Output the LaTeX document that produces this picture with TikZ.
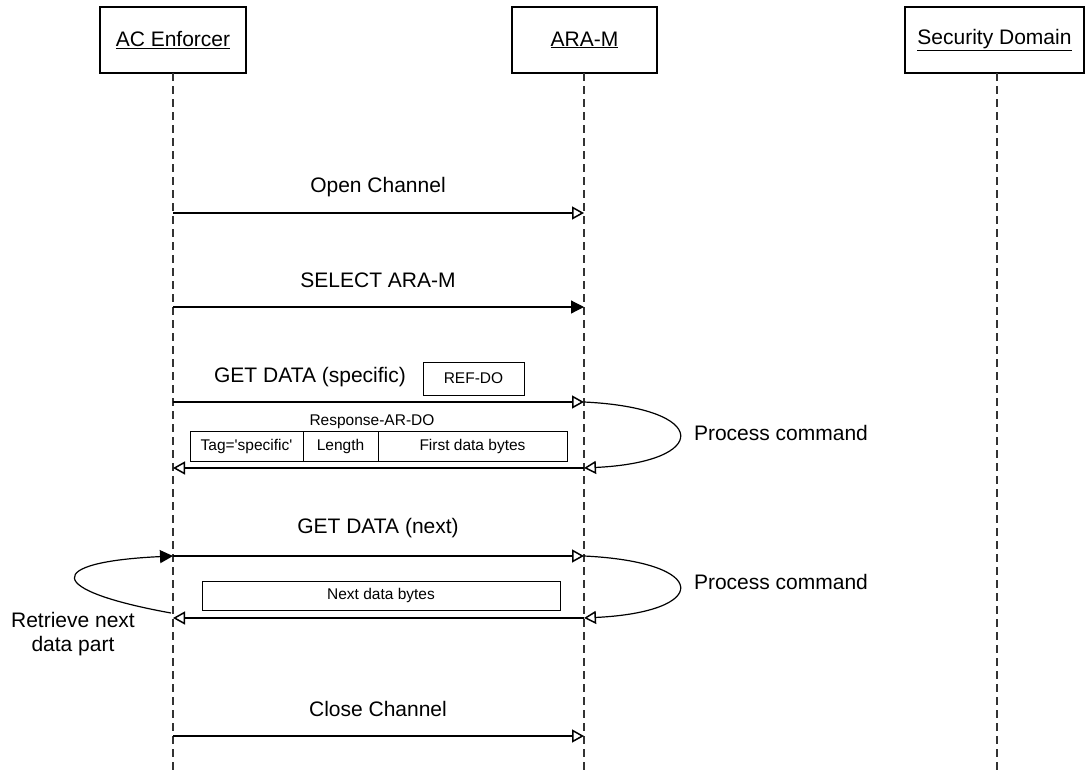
\documentclass[tikz,border=0pt]{standalone}
\usepackage{fontspec}
\setmainfont{Liberation Sans}
\usetikzlibrary{arrows.meta}
\begin{document}
\begin{tikzpicture}[x=1pt,y=-1pt,
  every node/.style={inner sep=0pt, outer sep=0pt},
  actor/.style={draw, line width=1.2pt, minimum width=146pt, minimum height=66pt, font=\fontsize{21}{25}\selectfont},
  life/.style={line width=1.1pt, dash pattern=on 8pt off 5pt, draw=black!80},
  msg/.style={line width=1.2pt, -{Triangle[open,length=12pt,width=13pt,line width=1.5pt]}},
  msgf/.style={line width=1.2pt, -{Triangle[length=13pt,width=13pt]}},
  big/.style={font=\fontsize{21}{24}\selectfont},
  small/.style={font=\fontsize{15.5}{18}\selectfont},
  field/.style={draw, line width=1pt, small},
]
\useasboundingbox (0,0) rectangle (1085,774);

% actors
\node[actor] (ac) at (173,40) {\underline{AC Enforcer}};
\node[actor, minimum width=145pt] (ara) at (584.5,40) {\underline{ARA-M}};
\node[actor, minimum width=179pt] (sd) at (994.5,40) {\underline{Security Domain}};

% lifelines
\coordinate (acTop) at (173,73);
\coordinate (araTop) at (584,73);
\coordinate (sdTop) at (997,73);
\coordinate (acEnd) at (173,774);
\coordinate (araEnd) at (584,774);
\coordinate (sdEnd) at (997,774);
\draw[life] (acTop) -- (acEnd);
\draw[life] (araTop) -- (araEnd);
\draw[life] (sdTop) -- (sdEnd);

% Open Channel
\coordinate (a1) at (173,213); \coordinate (m1) at (584,213);
\draw[msg] (a1) -- (m1);
\node[big] (l1) at (378,187) {Open Channel};

% SELECT ARA-M
\coordinate (a2) at (173,307); \coordinate (m2) at (584,307);
\draw[msgf] (a2) -- (m2);
\node[big] (l2) at (378,280) {SELECT ARA-M};

% GET DATA (specific)
\coordinate (a3) at (173,402); \coordinate (m3) at (584,402);
\draw[msg] (a3) -- (m3);
\node[big] (l3) at (310,377) {GET DATA (specific)};
\node[field, minimum width=101pt, minimum height=33pt] (refdo) at (473.5,378.5) {REF-DO};
\node[small] (resp) at (372,422) {Response-AR-DO};
\node[field, minimum width=113pt, minimum height=30pt] (tag) at (246.5,446) {Tag=\textquotesingle specific\textquotesingle};
\node[field, minimum width=75pt, minimum height=30pt] (len) at (340.5,446) {Length};
\node[field, minimum width=189pt, minimum height=30pt] (first) at (472.5,446) {First data bytes};
\coordinate (m3r) at (584,468); \coordinate (a3r) at (173,468);
\draw[msg] (m3) .. controls (711,408) and (711,462) .. (m3r);
\node[big, anchor=west] (pc1) at (694,433) {Process command};
\draw[msg] (m3r) -- (a3r);

% GET DATA (next)
\coordinate (a4) at (173,556); \coordinate (m4) at (584,556);
\draw[msg] (a4) -- (m4);
\node[big] (l4) at (378,528) {GET DATA (next)};
\coordinate (m4r) at (584,618); \coordinate (a4r) at (173,618);
\draw[msg] (m4) .. controls (711,562) and (711,612) .. (m4r);
\node[big, anchor=west] (pc2) at (694,582) {Process command};
\node[field, minimum width=358pt, minimum height=29pt] (next) at (381,595.5) {Next data bytes};
\draw[msg] (m4r) -- (a4r);
\coordinate (a4s) at (171,613);
\draw[msgf] (a4s) .. controls (44,590) and (44,562) .. (a4);
\node[big, align=center] (ret) at (73,634) {Retrieve next\\data part};

% Close Channel
\coordinate (a5) at (173,736); \coordinate (m5) at (584,736);
\draw[msg] (a5) -- (m5);
\node[big] (l5) at (378,709) {Close Channel};
\end{tikzpicture}
\end{document}
